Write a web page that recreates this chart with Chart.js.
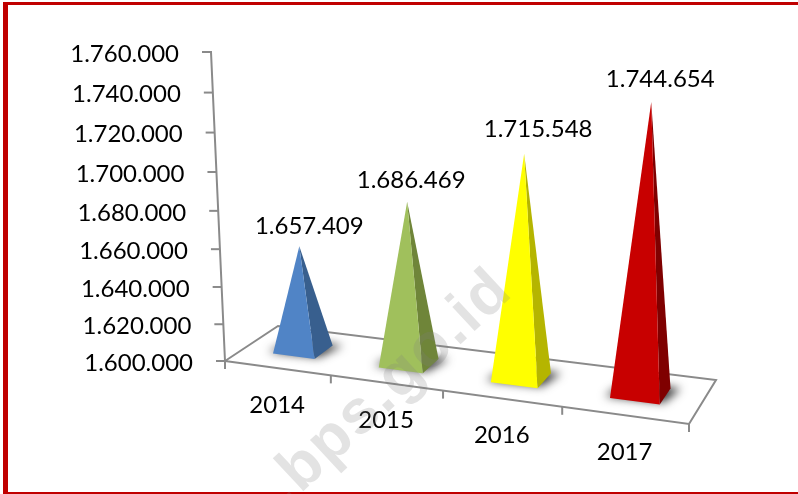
<!DOCTYPE html>
<html><head><meta charset="utf-8">
<script src="https://cdn.jsdelivr.net/npm/chart.js@4/dist/chart.umd.min.js"></script>
<style>html,body{margin:0;padding:0;background:#fff}canvas{display:block}</style>
</head><body><canvas id="c" width="798" height="494"></canvas>
<script>
const categories = ['2014','2015','2016','2017'];
const values = [1657409,1686469,1715548,1744654];
const tickValues = [1600000,1620000,1640000,1660000,1680000,1700000,1720000,1740000,1760000];
const faceColors = ['#5084c6','#a0c05c','#ffff00','#c80000'];
const sideColors = ['#385f8e','#6f8539','#b5b500','#7f0000'];

const FONT = 'Lato, "Open Sans", sans-serif';
const fmt = v => String(v).replace(/\B(?=(\d{3})+(?!\d))/g,'.');
const pctU = u => u/(1+0.128*(1-u));
const pctV = v => v/(1+0.058*(1-v));
const lerp = (a,b,t) => a+(b-a)*t;
// The plot's tilted floor: front-left, front-right, back-left, back-right
const FL=[225,361],FR=[689,424],BL=[278,326],BR=[716,380];

function project(chart,xPx,depth,yPx){
  const a=chart.chartArea;
  const u=pctU((xPx-a.left)/(a.right-a.left));
  const v=pctV((a.bottom-yPx)/(a.bottom-a.top));
  const fx=lerp(FL[0],FR[0],u),fy=lerp(FL[1],FR[1],u);
  const bx=lerp(BL[0],BR[0],u),by=lerp(BL[1],BR[1],u);
  const s=depth===0?1:0.96+0.105*u;
  const lean=lerp(-14,14,u)+(depth===0?0:2.5);
  return [lerp(fx,bx,depth)+v*lean, lerp(fy,by,depth)-v*(a.bottom-a.top)*s];
}
function poly(ctx,pts,fill){
  ctx.beginPath();pts.forEach((p,i)=>i?ctx.lineTo(p[0],p[1]):ctx.moveTo(p[0],p[1]));ctx.closePath();
  ctx.fillStyle=fill;ctx.fill();
}
const labelNudge=[[10,-20],[4,-21],[14,-25],[9,-23]];

const pyramid3d={
  id:'pyramid3d',
  beforeDraw(chart){
    const c=chart.ctx;c.save();
    c.fillStyle='#fff';c.fillRect(0,0,chart.width,chart.height);
    c.fillStyle='#c00000';
    c.fillRect(3,2,chart.width-3,3);
    c.fillRect(3,2,5,chart.height-2);
    c.fillRect(3,chart.height-2,chart.width-3,2);
    c.restore();
  },
  beforeDatasetsDraw(chart){
    const c=chart.ctx,a=chart.chartArea,ys=chart.scales.y;
    c.save();
    c.strokeStyle='#8a8a8a';c.lineWidth=2;c.lineJoin='miter';
    // value axis and ticks
    const P=(y)=>project(chart,a.left,0,y);
    let p0=P(a.bottom),p1=P(a.top);
    c.beginPath();c.moveTo(p1[0]-8,p1[1]);c.lineTo(p1[0],p1[1]);c.lineTo(p0[0],p0[1]);c.stroke();
    c.fillStyle='#000';c.font='24px '+FONT;c.textAlign='right';c.textBaseline='middle';
    ys.ticks.forEach(t=>{
      const p=P(ys.getPixelForValue(t.value));
      c.beginPath();c.moveTo(p[0]-9,p[1]);c.lineTo(p[0],p[1]);c.stroke();
      c.fillText(fmt(t.value),p[0]-32,p[1]+2);
    });
    // floor outline
    c.beginPath();c.moveTo(FL[0],FL[1]);c.lineTo(FR[0],FR[1]);c.lineTo(BR[0],BR[1]);c.lineTo(BL[0],BL[1]);c.closePath();c.stroke();
    // category ticks
    const cw=(a.right-a.left)/categories.length;
    for(let i=0;i<=categories.length;i++){
      const p=project(chart,a.left+i*cw,0,a.bottom);
      c.beginPath();c.moveTo(p[0],p[1]);c.lineTo(p[0],p[1]+8);c.stroke();
    }
    // pyramids
    const meta=chart.getDatasetMeta(0);
    meta.data.forEach((bar,i)=>{
      const hw=bar.width/2, b=ys.getPixelForValue(tickValues[0]);
      const fl=project(chart,bar.x-hw,0.33,b),fr=project(chart,bar.x+hw,0.33,b),
            br=project(chart,bar.x+hw,0.70,b),bl=project(chart,bar.x-hw,0.70,b),
            ap=project(chart,bar.x,0.5,bar.y);
      // soft floor shadow only (caster is drawn off-canvas)
      c.save();
      c.shadowColor='rgba(0,0,0,0.8)';c.shadowBlur=10;c.shadowOffsetX=2000;
      const sh=[[fl[0]-5,fl[1]-2],[fr[0]+4,fr[1]-2],[br[0]+10,br[1]],[bl[0]+4,bl[1]]].map(p=>[p[0]-2000,p[1]]);
      poly(c,sh,'#000');
      c.restore();
      poly(c,[fr,br,ap],sideColors[i]);
      poly(c,[fl,fr,ap],faceColors[i]);
      // data label
      c.fillStyle='#000';c.textAlign='center';c.textBaseline='middle';
      c.fillText(fmt(values[i]),ap[0]+labelNudge[i][0],ap[1]+labelNudge[i][1]);
      // category label
      const base=project(chart,bar.x,0,b);
      c.fillText(categories[i],base[0],base[1]+37);
    });
    // watermark
    c.save();
    c.translate(270,522);c.rotate(-43*Math.PI/180);
    c.font='bold 62px "Liberation Sans", Arial, sans-serif';c.letterSpacing='2px';c.textAlign='left';c.textBaseline='alphabetic';
    c.fillStyle='rgba(128,128,128,0.22)';
    c.fillText('.bps.go.id',22,0);
    c.restore();
    c.restore();
    return false;
  }
};

new Chart(document.getElementById('c'),{
  type:'bar',
  data:{labels:categories,datasets:[{data:values,backgroundColor:faceColors,barPercentage:0.4,categoryPercentage:1}]},
  options:{
    responsive:false,animation:false,devicePixelRatio:1,
    layout:{padding:{left:225,top:52,right:109,bottom:133}},
    plugins:{legend:{display:false},tooltip:{enabled:false}},
    scales:{
      x:{display:false},
      y:{display:false,min:tickValues[0],max:tickValues[tickValues.length-1],
         afterBuildTicks(s){s.ticks=tickValues.map(v=>({value:v}));}}
    }
  },
  plugins:[pyramid3d]
});
</script></body></html>
